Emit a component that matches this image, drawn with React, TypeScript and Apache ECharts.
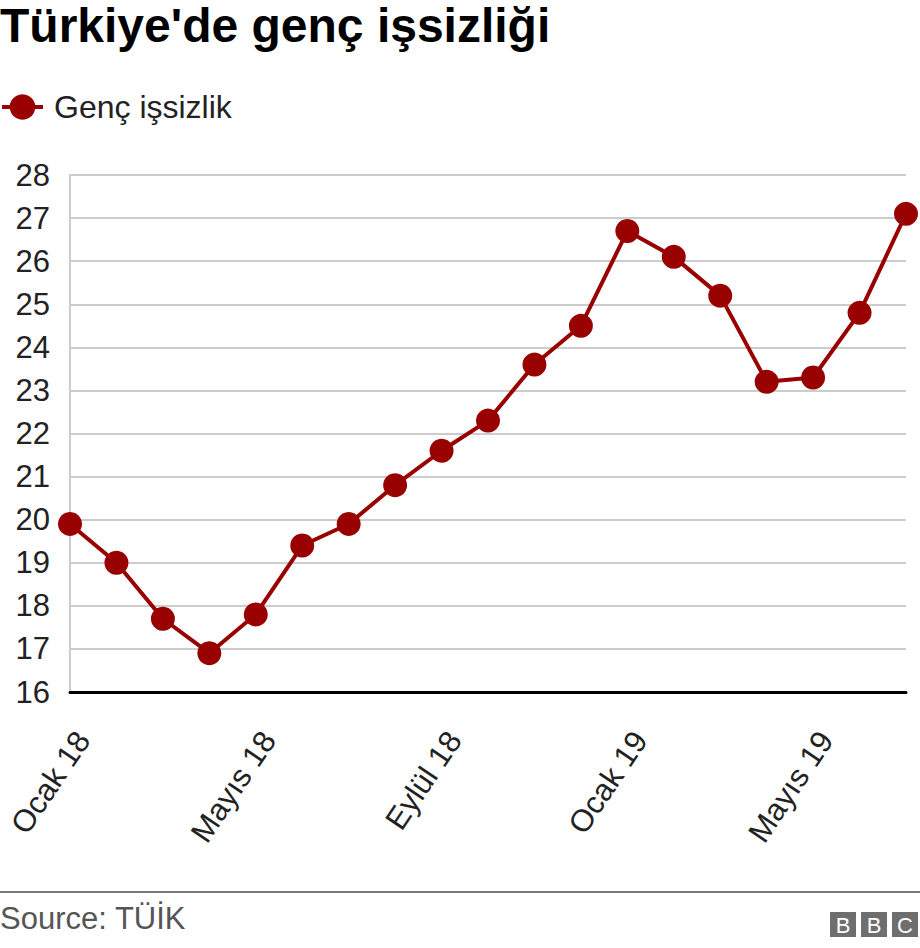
import { useEffect, useRef } from "react";
import * as echarts from "echarts";

const months = [
  "Ocak 18", "Şubat 18", "Mart 18", "Nisan 18", "Mayıs 18", "Haziran 18",
  "Temmuz 18", "Ağustos 18", "Eylül 18", "Ekim 18", "Kasım 18", "Aralık 18",
  "Ocak 19", "Şubat 19", "Mart 19", "Nisan 19", "Mayıs 19", "Haziran 19",
  "Temmuz 19",
];

const youthUnemployment = [
  19.9, 19.0, 17.7, 16.9, 17.8, 19.4, 19.9, 20.8, 21.6, 22.3, 23.6, 24.5,
  26.7, 26.1, 25.2, 23.2, 23.3, 24.8, 27.1,
];

const FONT = "'Liberation Sans', Arial, Helvetica, sans-serif";
const RED = "#990000";

const App = () => {
  const chartRef = useRef<HTMLDivElement>(null);

  useEffect(() => {
    if (!chartRef.current) return;
    const chart = echarts.init(chartRef.current, null, { renderer: "svg" });

    const option: any = {
      animation: false,
      backgroundColor: "#ffffff",
      textStyle: { fontFamily: FONT },
      title: {
        text: "Türkiye'de genç işsizliği",
        left: 0,
        top: 1,
        padding: 0,
        textStyle: {
          fontFamily: FONT,
          fontSize: 48,
          fontWeight: "bold",
          color: "#000000",
        },
      },
      legend: {
        left: 0,
        top: 91,
        padding: 0,
        itemWidth: 41,
        itemHeight: 32,
        itemGap: 12,
        lineStyle: { width: 4 },
        textStyle: {
          fontFamily: FONT,
          fontSize: 32,
          color: "#222222",
          padding: [0, 0, 0, 6],
        },
        data: ["Genç işsizlik"],
      },
      grid: {
        left: 70,
        right: 14,
        top: 175,
        bottom: 256,
        containLabel: false,
        outerBoundsMode: "none",
      },
      xAxis: {
        type: "category",
        data: months,
        boundaryGap: false,
        axisLine: { show: true, lineStyle: { color: "#000000", width: 3 } },
        axisTick: { show: false },
        splitLine: { show: false },
        axisLabel: {
          interval: 3,
          rotate: 56,
          margin: 34,
          verticalAlign: "top",
          fontFamily: FONT,
          fontSize: 31,
          color: "#222222",
        },
        z: 5,
      },
      yAxis: {
        type: "value",
        min: 16,
        max: 28,
        interval: 1,
        axisLine: { show: true, lineStyle: { color: "#cccccc", width: 2 } },
        axisTick: { show: false },
        splitLine: { lineStyle: { color: "#cccccc", width: 2 } },
        axisLabel: {
          margin: 20,
          fontFamily: FONT,
          fontSize: 31,
          color: "#222222",
        },
      },
      series: [
        {
          name: "Genç işsizlik",
          type: "line",
          data: youthUnemployment,
          symbol: "circle",
          symbolSize: 24,
          lineStyle: { color: RED, width: 4 },
          itemStyle: { color: RED },
          z: 10,
        },
      ],
      graphic: [
        {
          type: "line",
          shape: { x1: 0, y1: 892, x2: 920, y2: 892 },
          style: { stroke: "#777777", lineWidth: 2 },
        },
        {
          type: "text",
          left: 0,
          top: 903,
          style: {
            text: "Source: TÜİK",
            font: `31px ${FONT}`,
            fill: "#555555",
          },
        },
        ...["B", "B", "C"].flatMap((letter, i) => [
          {
            type: "rect",
            shape: { x: 830 + i * 31, y: 912, width: 26, height: 25 },
            style: { fill: "#6e6e6e" },
          },
          {
            type: "text",
            x: 843 + i * 31,
            y: 925,
            style: {
              text: letter,
              font: `22px ${FONT}`,
              fill: "#ffffff",
              align: "center",
              verticalAlign: "middle",
            },
          },
        ]),
      ],
    };

    chart.setOption(option);
    return () => {
      chart.dispose();
    };
  }, []);

  return (
    <div
      ref={chartRef}
      style={{ position: "absolute", left: 0, top: 0, width: 920, height: 948 }}
    />
  );
};

export default App;
